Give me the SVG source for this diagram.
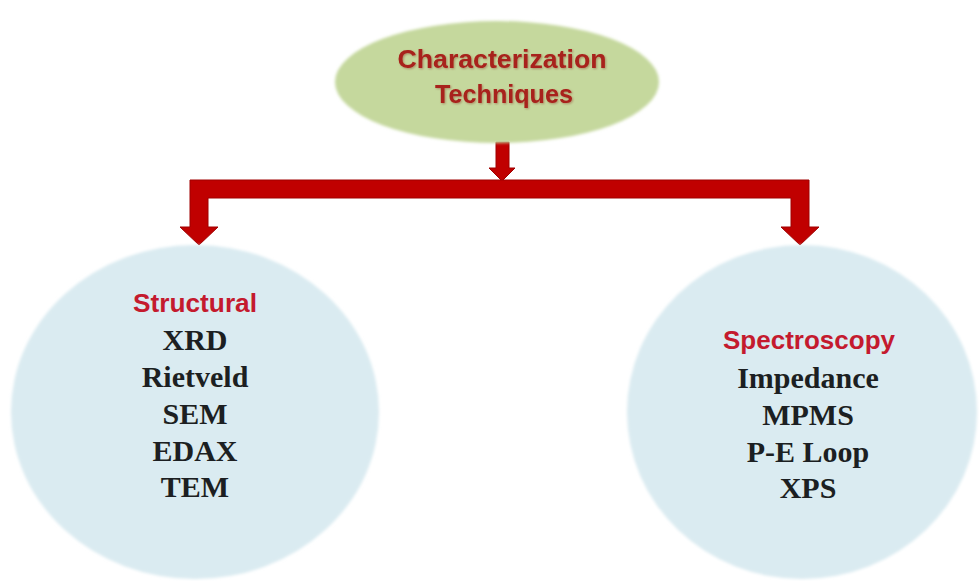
<svg xmlns="http://www.w3.org/2000/svg" width="979" height="581" viewBox="0 0 979 581">
  <defs>
    <filter id="soft" x="-5%" y="-5%" width="110%" height="110%">
      <feGaussianBlur stdDeviation="1.5"/>
    </filter>
    <filter id="shadow" x="-5%" y="-20%" width="110%" height="140%">
      <feDropShadow dx="1" dy="1" stdDeviation="0.8" flood-color="#7a0000" flood-opacity="0.35"/>
    </filter>
  </defs>
  <style>
    .red { font-family: "Liberation Sans", Arial, sans-serif; font-weight: bold; font-size: 26px; text-anchor: middle; }
    .top { fill: #a8201a; }
    .cat { fill: #c41a2e; }
    .item { font-family: "Liberation Serif", "Times New Roman", serif; font-weight: bold; font-size: 30px; fill: #1c1f22; text-anchor: middle; }
    .arrow { fill: #c00000; stroke: #a00000; stroke-width: 1; stroke-linejoin: miter; }
  </style>
  <rect width="979" height="581" fill="#ffffff"/>

  <g id="connectors">
    <path class="arrow" d="M496,142 H509 V168 H515 L502,181 L489,168 H496 Z"/>
    <path class="arrow" d="M190,180 H809 V227 H819 L800,245 L781,227 H791 V198 H208 V227 H218 L199,245 L180,227 H190 Z"/>
  </g>

  <g id="node-characterization">
    <ellipse cx="497" cy="82" rx="162" ry="61" fill="#c5d89d" filter="url(#soft)"/>
    <text class="red top" x="502" y="68" textLength="209" lengthAdjust="spacingAndGlyphs" filter="url(#shadow)">Characterization</text>
    <text class="red top" x="504" y="103" textLength="138" lengthAdjust="spacingAndGlyphs" filter="url(#shadow)">Techniques</text>
  </g>

  <g id="node-structural">
    <ellipse cx="195" cy="412" rx="184" ry="167" fill="#daebf1" filter="url(#soft)"/>
    <text class="red cat" x="195" y="312" textLength="124" lengthAdjust="spacingAndGlyphs">Structural</text>
    <text class="item" x="195" y="350">XRD</text>
    <text class="item" x="195" y="387">Rietveld</text>
    <text class="item" x="195" y="424">SEM</text>
    <text class="item" x="195" y="461">EDAX</text>
    <text class="item" x="195" y="497">TEM</text>
  </g>

  <g id="node-spectroscopy">
    <ellipse cx="802" cy="412" rx="175" ry="167" fill="#daebf1" filter="url(#soft)"/>
    <text class="red cat" x="809" y="349" textLength="172" lengthAdjust="spacingAndGlyphs">Spectroscopy</text>
    <text class="item" x="808" y="388">Impedance</text>
    <text class="item" x="808" y="425">MPMS</text>
    <text class="item" x="808" y="462">P-E Loop</text>
    <text class="item" x="808" y="498">XPS</text>
  </g>
</svg>
